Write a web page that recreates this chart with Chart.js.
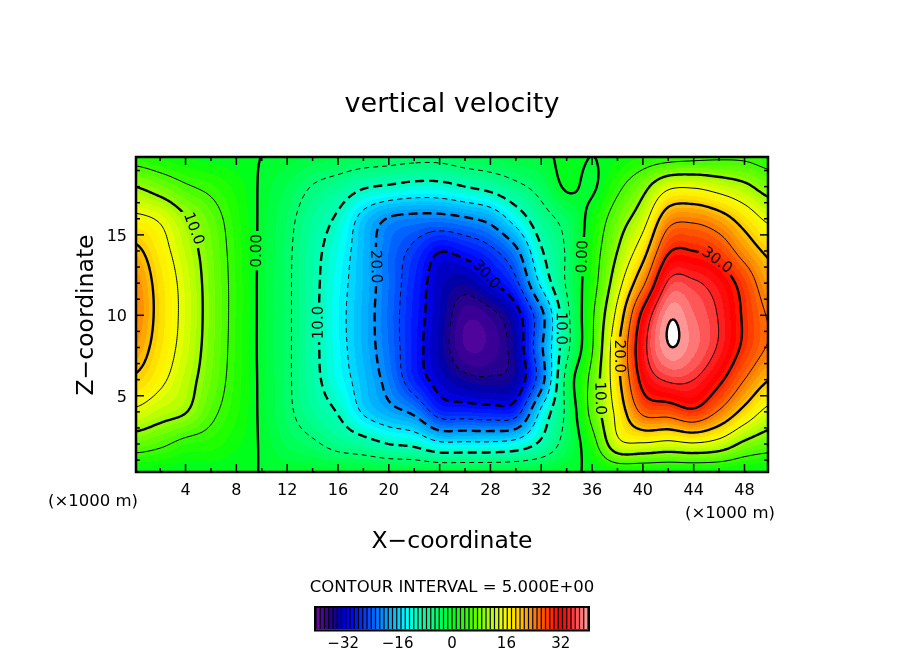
<!DOCTYPE html>
<html>
<head>
<meta charset="utf-8">
<title>vertical velocity</title>
<script src="https://cdn.jsdelivr.net/npm/chart.js@4.4.0/dist/chart.umd.min.js"></script>
<style>
  html, body { margin: 0; padding: 0; background: #fff; }
  #wrap { position: relative; width: 904px; height: 654px; overflow: hidden; }
  #chart-field { position: absolute; left: 0; top: 0; }
  #chart-cbar  { position: absolute; left: 290px; top: 600px; }
</style>
</head>
<body>
<div id="wrap">
  <canvas id="chart-field" width="904" height="654"></canvas>
  <canvas id="chart-cbar" width="324" height="51"></canvas>
</div>
<script>
// grid of the field (x, z in km)
const X_KM = [0, 2, 4, 6, 8, 10, 12, 14, 16, 18, 20, 22, 24, 26, 28, 30, 32, 34, 36, 38, 40, 42, 44, 46, 48, 50]
const Z_KM = [0, 2, 4, 6, 8, 10, 12, 14, 16, 18, 20]

const W_Z00 = [0, 0, 0, 0, 0, 0, 0, 0, 0, 0, 0, 0, 0, 0, 0, 0, 0, 0, 0, 0, 0, 0, 0, 0, 0, 0]
const W_Z02 = [7.2, 5.8, 3.8, 3.2, 1.5, -0.3, -2.8, -4.3, -6.5, -8, -10, -11, -14, -14, -14, -13, -9, -3, 3, 13.5, 14.5, 13.6, 14.5, 13, 9, 7]
const W_Z04 = [14.2, 12, 10.2, 6, 2.8, -0.6, -4.1, -7.5, -10.3, -15.5, -18.5, -21, -27, -27.5, -28, -27, -14, -4, 6.5, 16.5, 26, 27, 29, 24.5, 18.5, 13.5]
const W_Z06 = [19.3, 16, 12, 7.5, 3.3, -0.7, -4.3, -8.6, -12.8, -17, -21.5, -27.5, -31.5, -34, -34.5, -33, -22, -3.5, 6.5, 18.5, 31.5, 35.5, 35, 31, 25, 20]
const W_Z08 = [22.5, 17.8, 13.2, 8.1, 3.5, -0.8, -4.3, -8.8, -13.4, -17.8, -22.5, -28.2, -33, -37.5, -37, -33, -20.8, -6.4, 4.6, 19, 33.5, 39.8, 38, 34.5, 29, 24.5]
const W_Z10 = [24, 18.5, 13.6, 8.3, 3.6, -0.8, -4.3, -8.8, -13.6, -17.9, -22.8, -28, -32.5, -37, -36, -31.7, -21.4, -6.4, 4.2, 16.5, 31.3, 39.5, 37.6, 34.7, 29.3, 24.5]
const W_Z12 = [23.5, 18.2, 13.4, 8.2, 3.6, -0.8, -4.3, -8.7, -13.3, -17.6, -22.5, -27.5, -32, -33.5, -30.5, -26, -14, -4.5, 3, 13, 24, 35.5, 35.5, 33, 28, 22]
const W_Z14 = [21, 16.8, 12.3, 7.8, 3.4, -0.7, -4.2, -8.5, -12.5, -17.5, -22.5, -26, -29.8, -28.5, -26, -21, -10.5, -4.5, 2.5, 10, 18, 29.4, 30, 28, 23, 19]
const W_Z16 = [16, 14.4, 10.4, 6.8, 3, -0.6, -3.8, -7.5, -10.8, -16.5, -20.3, -21.3, -21.5, -20.5, -18.5, -13, -7, -3.5, 1.5, 7.5, 13, 23, 24, 22, 18, 14]
const W_Z18 = [10, 7.9, 5.5, 4, 2, -0.4, -2.6, -5.2, -7, -9.5, -10.5, -11.5, -11.5, -10, -8.5, -6, -3.5, 0.5, -0.5, 4, 8.5, 14, 14.5, 13, 11, 8]
const W_Z20 = [3, 2, 1, 0.5, 0.3, 0, -0.5, -1.5, -2, -2.5, -3, -3.5, -3.5, -2.5, -2, -1.5, -1, 1, 0, 1, 2.5, 3, 3.5, 4, 4, 3]

const W_ROWS = [W_Z00, W_Z02, W_Z04, W_Z06, W_Z08, W_Z10, W_Z12, W_Z14, W_Z16, W_Z18, W_Z20]

const CONTOUR_LEVELS = [-35, -30, -25, -20, -15, -10, -5, 0, 5, 10, 15, 20, 25, 30, 35, 40]
const X_TICKS = [4, 8, 12, 16, 20, 24, 28, 32, 36, 40, 44, 48]
const Z_TICKS = [5, 10, 15]
const CBAR_TICKS = [-32, -16, 0, 16, 32]

// where the contour labels sit (level, and roughly where along the line)
const LABEL_LEVELS = [10, 0, -10, -20, -30, -10, 0, 30, 20, 10]
const LABEL_X      = [4.5, 9.6, 14.5, 18.8, 27.6, 33.6, 35.4, 45.5, 38.3, 36.6]
const LABEL_Z      = [15.3, 14.0, 9.5, 13.0, 12.4, 9.2, 13.7, 13.0, 7.4, 4.8]

// shading: 64 bands of 1.25 between -40 and 40
const FILL_MIN = -40, FILL_STEP = 1.25, FILL_COUNT = 64
const CBAR_LEVELS = Array.from({ length: FILL_COUNT }, (_, k) => FILL_MIN + (k + 0.5) * FILL_STEP)

const CMAP = [
  [-40, [110, 10, 165]], [-37, [60, 0, 150]], [-35, [30, 0, 140]], [-33, [0, 0, 170]],
  [-30, [0, 0, 240]], [-28, [0, 25, 255]], [-24, [0, 85, 255]], [-20, [0, 150, 255]],
  [-16, [0, 205, 255]], [-13.5, [0, 255, 255]], [-11, [0, 255, 200]], [-6, [0, 255, 130]],
  [-2, [0, 255, 70]], [0.5, [0, 255, 30]], [2.5, [20, 255, 0]], [6, [80, 255, 0]],
  [11, [170, 255, 0]], [15, [240, 255, 0]], [17, [255, 240, 0]], [20, [255, 200, 0]],
  [24, [255, 130, 0]], [28, [255, 65, 0]], [32, [255, 0, 0]], [34, [255, 20, 20]],
  [37, [255, 90, 90]], [40, [255, 165, 165]],
]
const FONT = '"DejaVu Sans", sans-serif'

function cmap(v) {
  if (v <= CMAP[0][0]) return CMAP[0][1]
  for (let k = 1; k < CMAP.length; k++) {
    if (v <= CMAP[k][0]) {
      const [v0, c0] = CMAP[k - 1], [v1, c1] = CMAP[k]
      const t = (v - v0) / (v1 - v0)
      return c0.map((c, n) => Math.round(c + (c1[n] - c) * t))
    }
  }
  return CMAP[CMAP.length - 1][1]
}
const BAND_RGB = CBAR_LEVELS.map(cmap)
function levelColor(v) {
  if (v > FILL_MIN + FILL_COUNT * FILL_STEP) return [255, 255, 255]
  let k = Math.floor((v - FILL_MIN) / FILL_STEP)
  k = Math.max(0, Math.min(FILL_COUNT - 1, k))
  return BAND_RGB[k]
}
const rgb = c => `rgb(${c[0]},${c[1]},${c[2]})`

// smooth reading of the grid between its nodes (Catmull-Rom)
function cr(p0, p1, p2, p3, t) {
  return 0.5 * (2 * p1 + (p2 - p0) * t + (2 * p0 - 5 * p1 + 4 * p2 - p3) * t * t + (3 * p1 - p0 - 3 * p2 + p3) * t * t * t)
}
function field(x, z) {
  const nx = X_KM.length, nz = Z_KM.length
  const gx = (x - X_KM[0]) / (X_KM[1] - X_KM[0])
  const gz = (z - Z_KM[0]) / (Z_KM[1] - Z_KM[0])
  const i = Math.max(0, Math.min(nx - 2, Math.floor(gx)))
  const j = Math.max(0, Math.min(nz - 2, Math.floor(gz)))
  const tx = gx - i, tz = gz - j
  const c = []
  for (let d = -1; d <= 2; d++) {
    const row = W_ROWS[Math.max(0, Math.min(nz - 1, j + d))]
    c.push(cr(row[Math.max(0, i - 1)], row[i], row[i + 1], row[Math.min(nx - 1, i + 2)], tx))
  }
  return cr(c[0], c[1], c[2], c[3], tz)
}

// marching squares, chained into polylines (lattice coordinates)
function contourLines(vals, nx, ny, level) {
  const segs = [], pts = new Map(), nH = nx * ny
  const at = (i, j) => vals[j * nx + i]
  const cross = (key, i0, j0, i1, j1) => {
    if (!pts.has(key)) {
      const a = at(i0, j0), b = at(i1, j1), t = (level - a) / (b - a)
      pts.set(key, [i0 + (i1 - i0) * t, j0 + (j1 - j0) * t])
    }
    return key
  }
  for (let j = 0; j < ny - 1; j++) {
    for (let i = 0; i < nx - 1; i++) {
      const v0 = at(i, j), v1 = at(i + 1, j), v2 = at(i + 1, j + 1), v3 = at(i, j + 1)
      const c = (v0 > level ? 1 : 0) | (v1 > level ? 2 : 0) | (v2 > level ? 4 : 0) | (v3 > level ? 8 : 0)
      if (c === 0 || c === 15) continue
      const T = (v0 > level) !== (v1 > level) ? cross(j * nx + i, i, j, i + 1, j) : null
      const R = (v1 > level) !== (v2 > level) ? cross(nH + j * nx + i + 1, i + 1, j, i + 1, j + 1) : null
      const B = (v3 > level) !== (v2 > level) ? cross((j + 1) * nx + i, i, j + 1, i + 1, j + 1) : null
      const L = (v0 > level) !== (v3 > level) ? cross(nH + j * nx + i, i, j, i, j + 1) : null
      if (c === 5 || c === 10) {
        const mid = (v0 + v1 + v2 + v3) / 4 > level
        if ((c === 5) === mid) segs.push([T, R], [B, L])
        else segs.push([T, L], [R, B])
      } else {
        const e = [T, R, B, L].filter(k => k !== null)
        segs.push([e[0], e[1]])
      }
    }
  }
  const adj = new Map()
  segs.forEach((s, n) => s.forEach(k => { if (!adj.has(k)) adj.set(k, []); adj.get(k).push(n) }))
  const used = new Uint8Array(segs.length)
  const walk = (start, chain, forward) => {
    let cur = start
    for (;;) {
      const next = (adj.get(cur) || []).find(n => !used[n])
      if (next === undefined) break
      used[next] = 1
      const s = segs[next]
      cur = s[0] === cur ? s[1] : s[0]
      forward ? chain.push(cur) : chain.unshift(cur)
    }
  }
  const lines = []
  for (let n = 0; n < segs.length; n++) {
    if (used[n]) continue
    used[n] = 1
    const chain = [segs[n][0], segs[n][1]]
    walk(chain[1], chain, true)
    walk(chain[0], chain, false)
    lines.push(chain.map(k => pts.get(k)))
  }
  return lines
}

const fieldPlugin = {
  id: 'field',
  beforeDatasetsDraw(chart) {
    const { ctx, chartArea: a, scales: { x: sx, y: sy } } = chart
    const w = Math.round(a.right - a.left), h = Math.round(a.bottom - a.top)

    // shaded bands
    const off = document.createElement('canvas')
    off.width = w; off.height = h
    const octx = off.getContext('2d')
    const img = octx.createImageData(w, h)
    const xv = [], zv = []
    for (let i = 0; i < w; i++) xv.push(sx.getValueForPixel(a.left + i + 0.5))
    for (let j = 0; j < h; j++) zv.push(sy.getValueForPixel(a.top + j + 0.5))
    for (let j = 0; j < h; j++) {
      for (let i = 0; i < w; i++) {
        const c = levelColor(field(xv[i], zv[j]))
        const p = (j * w + i) * 4
        img.data[p] = c[0]; img.data[p + 1] = c[1]; img.data[p + 2] = c[2]; img.data[p + 3] = 255
      }
    }
    octx.putImageData(img, 0, 0)
    ctx.drawImage(off, a.left, a.top)

    // contour lines
    const nx = Math.round(w / 2) + 1, ny = Math.round(h / 2) + 1
    const stX = w / (nx - 1), stY = h / (ny - 1)
    const vals = new Float64Array(nx * ny)
    for (let j = 0; j < ny; j++) {
      const z = sy.getValueForPixel(a.top + j * stY)
      for (let i = 0; i < nx; i++) vals[j * nx + i] = field(sx.getValueForPixel(a.left + i * stX), z)
    }
    const toPx = p => [a.left + p[0] * stX, a.top + p[1] * stY]
    const byLevel = new Map()
    CONTOUR_LEVELS.forEach(lv => byLevel.set(lv, contourLines(vals, nx, ny, lv).map(l => l.map(toPx))))

    // labels: snap each to its line
    const labelFont = `15px ${FONT}`
    ctx.font = labelFont
    const labels = []
    LABEL_LEVELS.forEach((lv, n) => {
      const hx = sx.getPixelForValue(LABEL_X[n]), hy = sy.getPixelForValue(LABEL_Z[n])
      let best = null
      for (const line of byLevel.get(lv) || []) {
        line.forEach((p, k) => {
          const d = (p[0] - hx) ** 2 + (p[1] - hy) ** 2
          if (!best || d < best.d) best = { d, line, k }
        })
      }
      if (!best) return
      const { line, k } = best
      const p0 = line[Math.max(0, k - 5)], p1 = line[Math.min(line.length - 1, k + 5)]
      let ang = Math.atan2(p1[1] - p0[1], p1[0] - p0[0])
      if (ang > Math.PI / 2) ang -= Math.PI
      if (ang <= -Math.PI / 2) ang += Math.PI
      const text = lv === 0 ? '0.00' : Math.abs(lv).toFixed(1)
      labels.push({ x: line[k][0], y: line[k][1], ang, text, hw: ctx.measureText(text).width / 2 + 3, hh: 8 })
    })

    ctx.save()
    ctx.beginPath()
    ctx.rect(a.left, a.top, w, h)
    labels.forEach(L => {
      const c = Math.cos(L.ang), s = Math.sin(L.ang)
      const corner = (u, v) => [L.x + u * c - v * s, L.y + u * s + v * c]
      const q = [corner(-L.hw, -L.hh), corner(L.hw, -L.hh), corner(L.hw, L.hh), corner(-L.hw, L.hh)]
      ctx.moveTo(q[0][0], q[0][1]); q.slice(1).forEach(p => ctx.lineTo(p[0], p[1])); ctx.closePath()
    })
    ctx.clip('evenodd')
    ctx.strokeStyle = '#000'
    ctx.lineJoin = 'round'
    CONTOUR_LEVELS.forEach(lv => {
      const thick = lv % 10 === 0
      ctx.lineWidth = thick ? 2.4 : 1
      ctx.setLineDash(lv < 0 ? (thick ? [9, 5] : [5, 4]) : [])
      byLevel.get(lv).forEach(line => {
        ctx.beginPath()
        ctx.moveTo(line[0][0], line[0][1])
        for (let k = 1; k < line.length; k++) ctx.lineTo(line[k][0], line[k][1])
        ctx.stroke()
      })
    })
    ctx.restore()

    ctx.save()
    ctx.fillStyle = '#000'
    ctx.font = labelFont
    ctx.textAlign = 'center'
    ctx.textBaseline = 'middle'
    labels.forEach(L => {
      ctx.save(); ctx.translate(L.x, L.y); ctx.rotate(L.ang); ctx.fillText(L.text, 0, 0); ctx.restore()
    })
    ctx.restore()
  },

  afterDraw(chart) {
    const { ctx, chartArea: a, scales: { x: sx, y: sy } } = chart
    ctx.save()
    ctx.strokeStyle = '#000'
    ctx.fillStyle = '#000'
    ctx.lineWidth = 2.5
    ctx.strokeRect(a.left, a.top, a.right - a.left, a.bottom - a.top)

    ctx.lineWidth = 1.5
    const seg = (x0, y0, x1, y1) => { ctx.beginPath(); ctx.moveTo(x0, y0); ctx.lineTo(x1, y1); ctx.stroke() }
    const xTick = (v, len) => { const p = sx.getPixelForValue(v); seg(p, a.bottom, p, a.bottom - len); seg(p, a.top, p, a.top + len) }
    const zTick = (v, len) => { const p = sy.getPixelForValue(v); seg(a.left, p, a.left + len, p); seg(a.right, p, a.right - len, p) }
    X_TICKS.forEach(v => { xTick(v, 8); xTick(v - 2, 4) })
    for (let z = 1; z < 20; z++) if (!Z_TICKS.includes(z)) zTick(z, 4)
    Z_TICKS.forEach(v => zTick(v, 8))

    ctx.font = `16px ${FONT}`
    ctx.textAlign = 'center'
    ctx.textBaseline = 'alphabetic'
    X_TICKS.forEach(v => ctx.fillText(String(v), sx.getPixelForValue(v), 495))
    ctx.textAlign = 'right'
    Z_TICKS.forEach(v => ctx.fillText(String(v), 127, sy.getPixelForValue(v) + 6))

    ctx.font = `16.5px ${FONT}`
    ctx.textAlign = 'left'
    ctx.fillText('(×1000 m)', 48, 506)
    ctx.fillText('(×1000 m)', 685, 518)

    ctx.textAlign = 'center'
    ctx.font = `27px ${FONT}`
    ctx.fillText('vertical velocity', 452, 112)
    ctx.font = `23.5px ${FONT}`
    ctx.fillText('X\u2212coordinate', 452, 548)
    ctx.save()
    ctx.translate(93, 315)
    ctx.rotate(-Math.PI / 2)
    ctx.fillText('Z\u2212coordinate', 0, 0)
    ctx.restore()
    ctx.font = `16.5px ${FONT}`
    ctx.fillText('CONTOUR INTERVAL = 5.000E+00', 452, 592)
    ctx.restore()
  },
}

const gridPoints = []
W_ROWS.forEach((row, j) => row.forEach((w, i) => gridPoints.push({ x: X_KM[i], y: Z_KM[j], w })))

new Chart(document.getElementById('chart-field'), {
  type: 'scatter',
  data: { datasets: [{ label: 'w', data: gridPoints, pointRadius: 0, pointHoverRadius: 0 }] },
  options: {
    responsive: false, devicePixelRatio: 1, animation: false,
    layout: { padding: { left: 136, top: 157, right: 136, bottom: 182 } },
    plugins: { legend: { display: false }, tooltip: { enabled: false } },
    scales: {
      x: { type: 'linear', min: 0.1, max: 49.85, display: false },
      y: { type: 'linear', min: 0.26, max: 19.84, display: false },
    },
  },
  plugins: [fieldPlugin],
})

const cbarFrame = {
  id: 'cbarFrame',
  beforeDatasetsDraw(chart) {
    const { ctx, chartArea: a } = chart
    ctx.save(); ctx.fillStyle = '#000'
    ctx.fillRect(a.left, a.top, a.right - a.left, a.bottom - a.top)
    ctx.restore()
  },
  afterDatasetsDraw(chart) {
    const { ctx, chartArea: a } = chart
    ctx.save(); ctx.strokeStyle = '#000'; ctx.lineWidth = 2
    ctx.strokeRect(a.left - 1, a.top - 1, a.right - a.left + 2, a.bottom - a.top + 2)
    ctx.restore()
  },
}

new Chart(document.getElementById('chart-cbar'), {
  type: 'bar',
  data: {
    datasets: [{
      data:               CBAR_LEVELS.map(v => ({ x: v, y: 1 })),
      backgroundColor:    CBAR_LEVELS.map(v => rgb(levelColor(v))),
      barPercentage:      0.72,
      categoryPercentage: 1,
      borderWidth:        0,
    }],
  },
  options: {
    responsive: false, devicePixelRatio: 1, animation: false,
    layout: { padding: { left: 26, right: 26, top: 8, bottom: 0 } },
    plugins: { legend: { display: false }, tooltip: { enabled: false } },
    scales: {
      x: {
        type: 'linear', min: -40, max: 40, offset: false,
        grid: { display: false, drawTicks: false }, border: { display: false },
        afterBuildTicks: s => { s.ticks = CBAR_TICKS.map(v => ({ value: v })) },
        ticks: {
          autoSkip: false, maxRotation: 0, padding: 6, color: '#000',
          font: { family: 'DejaVu Sans', size: 15 },
          callback: v => (v < 0 ? '\u2212' + Math.abs(v) : String(v)),
        },
      },
      y: { display: false, min: 0, max: 1 },
    },
  },
  plugins: [cbarFrame],
})
</script>
</body>
</html>
